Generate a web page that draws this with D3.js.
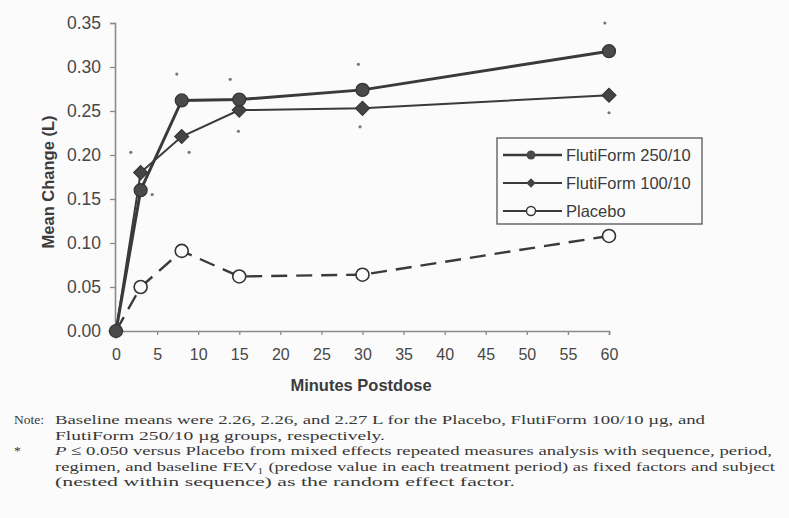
<!DOCTYPE html>
<html>
<head>
<meta charset="utf-8">
<script src="https://cdn.jsdelivr.net/npm/d3@7"></script>
<style>
  html, body { margin: 0; padding: 0; background: #fbfbfb; }
  svg { display: block; }
</style>
</head>
<body>
<svg id="chart" width="789" height="518"></svg>
<script>
// ---- data ----
const times = [0, 3, 8, 15, 30, 60];
const seriesNames = ["FlutiForm 250/10", "FlutiForm 100/10", "Placebo"];
const flutiform250 = [0.000, 0.160, 0.262, 0.263, 0.274, 0.318];
const flutiform100 = [0.000, 0.180, 0.221, 0.251, 0.253, 0.268];
const placebo      = [0.000, 0.050, 0.091, 0.062, 0.064, 0.108];
// asterisk (significance) markers: [time, value]
const starsUpper = [[1.8, 0.203], [7.4, 0.292], [13.9, 0.286], [29.5, 0.303], [59.5, 0.350]];
const starsLower = [[4.4, 0.155], [8.9, 0.203], [14.9, 0.227], [29.7, 0.232], [60.0, 0.248]];
const xTicks = [0, 5, 10, 15, 20, 25, 30, 35, 40, 45, 50, 55, 60];
const yTicks = [0, 0.05, 0.10, 0.15, 0.20, 0.25, 0.30, 0.35];
const xTitle = "Minutes Postdose";
const yTitle = "Mean Change (L)";
const noteLines = [
  "Baseline means were 2.26, 2.26, and 2.27 L for the Placebo, FlutiForm 100/10 \u00b5g, and",
  "FlutiForm 250/10 \u00b5g groups, respectively.",
  "P \u2264 0.050 versus Placebo from mixed effects repeated measures analysis with sequence, period,",
  "regimen, and baseline FEV\u2081 (predose value in each treatment period) as fixed factors and subject",
  "(nested within sequence) as the random effect factor."
];

// ---- layout ----
const svg = d3.select("#chart");
const x = d3.scaleLinear().domain([0, 60]).range([116, 609]);
const y = d3.scaleLinear().domain([0, 0.35]).range([331, 23]);
const ink = "#3a3a3a";
const axisCol = "#8a8a8a";
const sans = "'Liberation Sans', Arial, sans-serif";

// axes
const xAxis = svg.append("g").attr("transform", `translate(0,${y(0)})`)
  .call(d3.axisBottom(x).tickValues(xTicks).tickSize(4).tickPadding(14).tickFormat(d3.format("d")));
const yAxis = svg.append("g").attr("transform", `translate(${x(0) - 1},0)`)
  .call(d3.axisLeft(y).tickValues(yTicks).tickSize(5).tickPadding(9).tickFormat(d3.format(".2f")));
[xAxis, yAxis].forEach(g => {
  g.select(".domain").attr("stroke", axisCol).attr("stroke-width", 1.6);
  g.selectAll(".tick line").attr("stroke", axisCol).attr("stroke-width", 1.3);
  g.selectAll(".tick text").attr("fill", "#474747").style("font-family", sans);
});
xAxis.selectAll(".tick text").style("font-size", "16px");
yAxis.selectAll(".tick text").style("font-size", "17.5px");

// titles
svg.append("text").attr("x", 361).attr("y", 391).attr("text-anchor", "middle")
  .style("font-family", sans).style("font-size", "16.5px")
  .style("font-weight", "bold").attr("fill", "#3c3c3c").text(xTitle);
svg.append("text").attr("transform", "translate(54,182) rotate(-90)").attr("text-anchor", "middle")
  .style("font-family", sans).style("font-size", "16.5px")
  .style("font-weight", "bold").attr("fill", "#3c3c3c").text(yTitle);

// lines
const line = d3.line().x((d, i) => x(times[i])).y(d => y(d));
svg.append("path").datum(placebo).attr("d", line).attr("fill", "none")
  .attr("stroke", ink).attr("stroke-width", 2.4).attr("stroke-dasharray", "16,9");
svg.append("path").datum(flutiform100).attr("d", line).attr("fill", "none")
  .attr("stroke", ink).attr("stroke-width", 2);
svg.append("path").datum(flutiform250).attr("d", line).attr("fill", "none")
  .attr("stroke", ink).attr("stroke-width", 3);

// markers
const diamond = d3.symbol().type(d3.symbolSquare).size(100);
svg.append("g").selectAll("path").data(flutiform100).join("path")
  .attr("transform", (d, i) => `translate(${x(times[i])},${y(d)}) rotate(45)`)
  .attr("d", diamond).attr("fill", "#444").attr("stroke", "#333").attr("stroke-width", 1);
svg.append("g").selectAll("circle").data(flutiform250).join("circle")
  .attr("cx", (d, i) => x(times[i])).attr("cy", d => y(d)).attr("r", 6.5)
  .attr("fill", "#4a4a4a").attr("stroke", "#333").attr("stroke-width", 1.2);
svg.append("g").selectAll("circle").data(placebo.slice(1)).join("circle")
  .attr("cx", (d, i) => x(times[i + 1])).attr("cy", d => y(d)).attr("r", 6.5)
  .attr("fill", "#fbfbfb").attr("stroke", "#333").attr("stroke-width", 1.6);

// asterisks
svg.append("g").selectAll("circle").data(starsUpper.concat(starsLower)).join("circle")
  .attr("cx", d => x(d[0])).attr("cy", d => y(d[1])).attr("r", 1.6).attr("fill", "#777");

// legend
const lg = svg.append("g");
lg.append("rect").attr("x", 497).attr("y", 138).attr("width", 205).attr("height", 86)
  .attr("fill", "#fbfbfb").attr("stroke", "#555").attr("stroke-width", 1.3);
const legY = [155, 183, 211];
seriesNames.forEach((name, i) => {
  const yy = legY[i];
  lg.append("line").attr("x1", 503).attr("x2", 562).attr("y1", yy).attr("y2", yy)
    .attr("stroke", ink).attr("stroke-width", i === 0 ? 2.4 : 2);
  if (i === 0) {
    lg.append("circle").attr("cx", 531).attr("cy", yy).attr("r", 4.5).attr("fill", "#4a4a4a");
  } else if (i === 1) {
    lg.append("path").attr("transform", `translate(531,${yy}) rotate(45)`)
      .attr("d", d3.symbol().type(d3.symbolSquare).size(45)).attr("fill", "#444");
  } else {
    lg.append("circle").attr("cx", 531).attr("cy", yy).attr("r", 4.5)
      .attr("fill", "#fbfbfb").attr("stroke", "#333").attr("stroke-width", 1.4);
  }
  lg.append("text").attr("x", 566).attr("y", yy + 6)
    .style("font-family", sans).style("font-size", "16.5px")
    .attr("fill", "#3c3c3c").text(name);
});

// notes
const serif = "'Liberation Serif', 'Times New Roman', serif";
const noteY = [424, 439.5, 455, 470.5, 486];
const noteLen = [650, 330, 717, 720, 460];
const noteSize = "13.5px";
svg.append("text").attr("x", 14).attr("y", noteY[0]).style("font-family", serif)
  .style("font-size", noteSize).attr("fill", "#383838").text("Note:");
svg.append("text").attr("x", 14).attr("y", noteY[2]).style("font-family", serif)
  .style("font-size", noteSize).attr("fill", "#383838").text("*");
noteLines.forEach((t, i) => {
  const tx = svg.append("text").attr("x", 55).attr("y", noteY[i])
    .style("font-family", serif).style("font-size", noteSize).attr("fill", "#383838")
    .attr("textLength", noteLen[i]).attr("lengthAdjust", "spacingAndGlyphs");
  if (i === 2) {
    tx.append("tspan").style("font-style", "italic").text("P");
    tx.append("tspan").text(t.slice(1));
  } else {
    tx.text(t);
  }
});
</script>
</body>
</html>
